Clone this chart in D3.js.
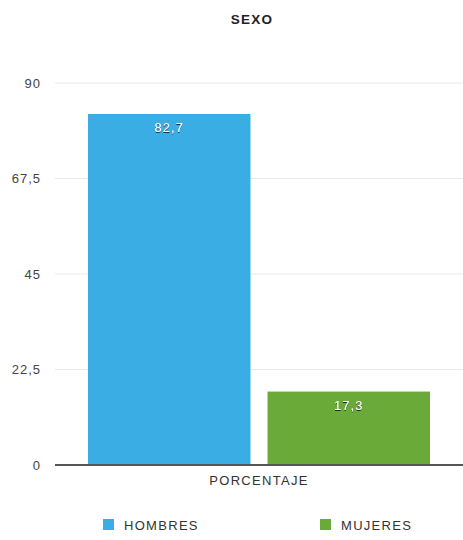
<!DOCTYPE html>
<html><head><meta charset="utf-8">
<script src="https://cdn.jsdelivr.net/npm/d3@7"></script>
<style>
body{margin:0;background:#fff;}
text{font-family:"Liberation Sans",Arial,sans-serif;}
</style></head>
<body><svg id="c" width="463" height="540"></svg>
<script>
const title = "SEXO";
const categories = ["PORCENTAJE"];
const seriesNames = ["HOMBRES", "MUJERES"];
const seriesValues = [82.7, 17.3];
const seriesColors = ["#3aaee4", "#6aaa38"];
const yTicks = [0, 22.5, 45, 67.5, 90];

const svg = d3.select("#c");
const defs = svg.append("defs");
const f = defs.append("filter").attr("id","sh").attr("x","-20%").attr("y","-20%").attr("width","140%").attr("height","140%");
f.append("feDropShadow").attr("dx",0).attr("dy",1).attr("stdDeviation",0.7).attr("flood-color","#000").attr("flood-opacity",0.7);

const pLeft = 55, pRight = 463, pTop = 83, pBottom = 465;
const y = d3.scaleLinear().domain([0, 90]).range([pBottom, pTop]);
const x0 = d3.scaleBand().domain(categories).range([pLeft, pRight]).paddingOuter(0.0965).paddingInner(0);
const x1 = d3.scaleBand().domain(seriesNames).range([0, x0.bandwidth()]).paddingInner(0.095);

svg.append("text").attr("x", 252).attr("y", 24).attr("text-anchor","middle")
  .attr("font-size", 13.5).attr("font-weight","bold").attr("letter-spacing", 1.3)
  .attr("fill","#222").text(title);

const fmt = v => String(v).replace(".", ",");

// grid
svg.append("g").selectAll("line").data(yTicks.filter(t=>t>0)).join("line")
  .attr("x1", pLeft).attr("x2", pRight).attr("y1", d=>y(d)).attr("y2", d=>y(d))
  .attr("stroke","#e8e8e8").attr("stroke-width",1);

svg.append("g").selectAll("text").data(yTicks).join("text")
  .attr("x", 41).attr("y", d=>y(d)+4.5).attr("text-anchor","end")
  .attr("font-size", 13).attr("letter-spacing", 1).attr("fill","#444").text(d=>fmt(d));

const g = svg.append("g");
categories.forEach((c) => {
  seriesNames.forEach((s, i) => {
    const v = seriesValues[i];
    const bx = x0(c) + x1(s);
    g.append("rect").attr("x", bx).attr("y", y(v)).attr("width", x1.bandwidth())
      .attr("height", y(0) - y(v)).attr("fill", seriesColors[i]);
    g.append("text").attr("x", bx + x1.bandwidth()/2).attr("y", y(v) + 18)
      .attr("text-anchor","middle").attr("font-size", 13).attr("letter-spacing", 1).attr("fill","#fff")
      .attr("filter","url(#sh)").text(fmt(v));
  });
  svg.append("text").attr("x", x0(c) + x0.bandwidth()/2).attr("y", 485)
    .attr("text-anchor","middle").attr("font-size", 13).attr("letter-spacing", 1.3)
    .attr("fill","#333").text(c);
});

// baseline
svg.append("line").attr("x1", pLeft).attr("x2", pRight).attr("y1", y(0)).attr("y2", y(0))
  .attr("stroke","#555").attr("stroke-width",1.8);

// legend
const legX = [103, 320];
seriesNames.forEach((s, i) => {
  svg.append("rect").attr("x", legX[i]).attr("y", 519).attr("width", 11).attr("height", 11).attr("fill", seriesColors[i]);
  svg.append("text").attr("x", legX[i] + 21).attr("y", 529.5).attr("font-size", 13)
    .attr("letter-spacing", 1.3).attr("fill","#333").text(s);
});
</script></body></html>
